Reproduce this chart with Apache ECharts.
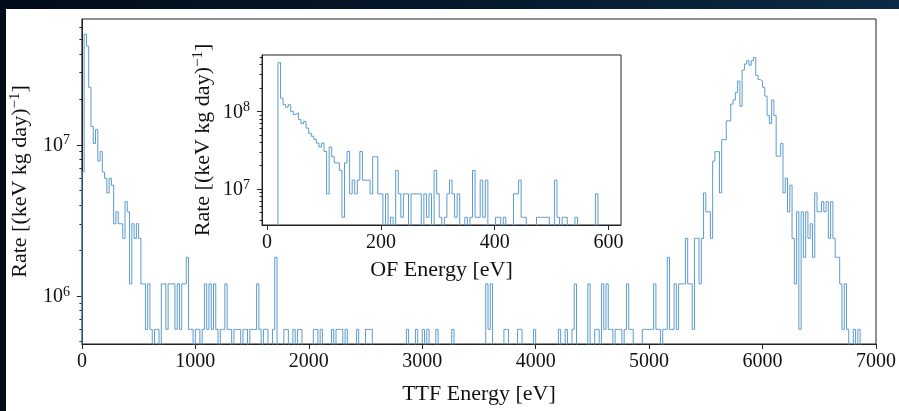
<!DOCTYPE html>
<html>
<head>
<meta charset="utf-8">
<script src="https://cdn.jsdelivr.net/npm/echarts@6/dist/echarts.min.js"></script>
<style>
  html, body { margin: 0; padding: 0; }
  body { width: 899px; height: 411px; overflow: hidden; position: relative;
         background: linear-gradient(90deg, #020c18 0%, #06182b 50%, #0b2a45 100%); }
  #panel { position: absolute; left: 6px; top: 9px; right: 0; bottom: 0; background: #fff; }
  #chart { position: absolute; left: 0; top: 0; width: 899px; height: 411px; }
</style>
</head>
<body>
<div id="panel"></div>
<div id="chart"></div>
<script>
// ---------------- data ----------------
// Main histogram: TTF energy, 20 eV bins starting at 0 eV; values are events per bin
const mainBinStart = 0;
const mainBinWidth = 20;
const mainCounts = [
  11, 90, 75, 40, 22, 17, 21, 13, 15, 11, 10, 8, 10, 9, 5, 6, 5, 5, 4, 7,
  6, 2, 5, 4, 5, 4, 2, 2, 1, 2, 1, 0, 1, 1, 0, 2, 2, 1, 2, 2,
  2, 1, 2, 1, 2, 2, 3, 1, 1, 0, 1, 1, 0, 1, 2, 1, 2, 1, 2, 1,
  0, 1, 1, 2, 1, 1, 0, 1, 1, 1, 0, 1, 1, 0, 1, 1, 1, 2, 1, 0,
  1, 1, 0, 0, 1, 3, 0, 0, 0, 1, 1, 0, 0, 1, 0, 1, 1, 0, 0, 0,
  0, 0, 1, 1, 0, 1, 0, 0, 0, 0, 1, 0, 1, 1, 1, 0, 1, 0, 0, 0,
  0, 1, 0, 0, 0, 1, 1, 1, 0, 0, 0, 0, 0, 0, 0, 0, 0, 0, 0, 0,
  0, 0, 0, 1, 0, 0, 0, 1, 0, 0, 1, 0, 1, 0, 0, 0, 1, 0, 0, 0,
  0, 0, 0, 1, 0, 0, 0, 0, 0, 0, 0, 0, 0, 0, 0, 0, 0, 0, 2, 1,
  2, 0, 0, 0, 0, 0, 1, 1, 0, 0, 0, 0, 1, 1, 0, 0, 0, 0, 0, 1,
  0, 0, 0, 0, 0, 0, 0, 0, 0, 0, 1, 0, 0, 1, 0, 0, 1, 2, 0, 0,
  0, 0, 0, 2, 0, 0, 1, 1, 0, 2, 1, 2, 1, 1, 0, 1, 1, 1, 0, 1,
  2, 1, 1, 0, 0, 0, 0, 1, 1, 1, 1, 1, 2, 1, 1, 0, 1, 1, 3, 1,
  1, 2, 1, 2, 2, 2, 4, 2, 2, 1, 4, 4, 2, 4, 8, 6, 6, 4, 13, 15,
  15, 8, 18, 18, 24, 24, 31, 33, 37, 44, 30, 52, 57, 60, 56, 60, 63, 48, 45, 44,
  40, 35, 26, 23, 33, 26, 14, 14, 17, 8, 10, 6, 9, 4, 2, 6, 1, 6, 3, 6,
  4, 5, 3, 8, 6, 6, 7, 6, 7, 4, 7, 4, 3, 3, 2, 1, 2, 1, 0, 0,
  1, 0, 1, 0, 0, 0, 0, 0, 0, 0
];
const mainRatePerEvent = 6.0e5;          // rate level of a single-event bin
const mainXTicks = [0, 1000, 2000, 3000, 4000, 5000, 6000, 7000];
const mainYTicks = [1e6, 1e7];
const mainYRange = [4.8e5, 6.8e7];

// Inset histogram: OF energy, 4.5 eV bins starting at 19 eV
const insetBinStart = 19;
const insetBinWidth = 4.5;
const insetCounts = [
  97, 34, 28, 26, 28, 23, 21, 22, 18, 16, 17, 14, 12, 11, 10, 9, 8, 9, 7, 2,
  8, 6, 5, 5, 4, 1, 5, 7, 2, 3, 2, 3, 7, 3, 3, 3, 2, 6, 6, 2,
  2, 0, 2, 0, 1, 0, 4, 2, 1, 2, 2, 0, 2, 2, 2, 2, 0, 2, 1, 2,
  0, 4, 2, 1, 0, 1, 2, 3, 2, 1, 2, 0, 0, 1, 0, 1, 4, 1, 1, 3,
  1, 3, 0, 0, 0, 1, 1, 0, 1, 0, 0, 0, 2, 2, 3, 1, 1, 0, 0, 0,
  0, 1, 1, 1, 1, 1, 0, 0, 3, 1, 0, 1, 1, 0, 0, 0, 1, 0, 0, 0,
  0, 0, 0, 0, 2
];
const insetRatePerEvent = 4.35e6;
const insetXTicks = [0, 200, 400, 600];
const insetXRange = [-9, 622];
const insetYTicks = [1e7, 1e8];
const insetYRange = [3.46e6, 5.3e8];

// ---------------- helpers ----------------
function stepOutline(start, width, counts, unit, floor) {
  const pts = [[start, floor]];
  counts.forEach((c, i) => {
    const v = c > 0 ? c * unit : floor;
    pts.push([start + i * width, v], [start + (i + 1) * width, v]);
  });
  pts.push([start + counts.length * width, floor]);
  return pts;
}
function minorLogTicks(lo, hi) {
  const out = [];
  for (let e = Math.floor(Math.log10(lo)); e <= Math.ceil(Math.log10(hi)); e++) {
    for (let m = 2; m <= 9; m++) {
      const v = m * Math.pow(10, e);
      if (v >= lo && v <= hi) out.push(v);
    }
  }
  return out;
}
function powLabel(v) {
  return '{b|10}{s|' + Math.round(Math.log10(v)) + '}';
}

const FONT = 'Liberation Serif';
const TXT = '#111';
const AX = '#222';
const LINE = '#5b9bd0';

const tickRich = {
  b: { fontFamily: FONT, color: TXT, fontSize: 20, lineHeight: 22, verticalAlign: 'bottom' },
  s: { fontFamily: FONT, color: TXT, fontSize: 14, lineHeight: 22, verticalAlign: 'top' }
};
const nameStyle = {
  fontFamily: FONT, color: TXT, fontSize: 22, lineHeight: 24,
  rich: {
    s: { fontFamily: FONT, color: TXT, fontSize: 15, lineHeight: 24, verticalAlign: 'top' }
  }
};
const yName = 'Rate [(keV kg day){s|−1}]';

const chart = echarts.init(document.getElementById('chart'), null, { renderer: 'canvas' });
chart.setOption({
  animation: false,
  backgroundColor: 'transparent',
  grid: [
    { left: 80, top: 19, width: 800, height: 330, show: true, borderColor: AX, borderWidth: 1,
      backgroundColor: 'transparent' },
    { left: 262, top: 55, width: 359, height: 170, show: true, borderColor: AX, borderWidth: 1,
      backgroundColor: '#fff', z: 10 }
  ],
  xAxis: [
    { gridIndex: 0, type: 'value', min: 0, max: 7000, interval: 1000,
      name: 'TTF Energy [eV]', nameLocation: 'middle', nameGap: 38,
      nameTextStyle: nameStyle,
      axisLine: { onZero: false, lineStyle: { color: AX, width: 1 } },
      axisTick: { inside: false, length: 5, lineStyle: { color: AX } },
      axisLabel: { fontFamily: FONT, color: TXT, fontSize: 20, margin: 8,
                   customValues: mainXTicks, formatter: v => String(v) },
      splitLine: { show: false } },
    { gridIndex: 1, type: 'value', min: insetXRange[0], max: insetXRange[1], z: 11,
      name: 'OF Energy [eV]', nameLocation: 'middle', nameGap: 33,
      nameTextStyle: nameStyle,
      axisLine: { onZero: false, lineStyle: { color: AX, width: 1 } },
      axisTick: { inside: false, length: 5, lineStyle: { color: AX }, customValues: insetXTicks },
      axisLabel: { fontFamily: FONT, color: TXT, fontSize: 20, margin: 8,
                   customValues: insetXTicks, formatter: v => String(v) },
      splitLine: { show: false } }
  ],
  yAxis: [
    { gridIndex: 0, type: 'log', logBase: 10, min: mainYRange[0], max: mainYRange[1], position: 'left',
      name: yName, nameLocation: 'middle', nameGap: 49,
      nameTextStyle: nameStyle,
      axisLine: { show: true, onZero: false, lineStyle: { color: AX, width: 1 } },
      axisTick: { inside: false, length: 5, lineStyle: { color: AX }, customValues: mainYTicks },
      axisLabel: { margin: 12, customValues: mainYTicks, formatter: powLabel, rich: tickRich },
      splitLine: { show: false } },
    { gridIndex: 0, type: 'log', logBase: 10, min: mainYRange[0], max: mainYRange[1], position: 'left',
      axisLine: { show: false, onZero: false },
      axisTick: { inside: false, length: 2.5, lineStyle: { color: AX },
                  customValues: minorLogTicks(mainYRange[0], mainYRange[1]) },
      axisLabel: { show: false }, splitLine: { show: false } },
    { gridIndex: 1, type: 'log', logBase: 10, min: insetYRange[0], max: insetYRange[1], z: 11, position: 'left',
      name: yName, nameLocation: 'middle', nameGap: 47,
      nameTextStyle: nameStyle,
      axisLine: { show: true, onZero: false, lineStyle: { color: AX, width: 1 } },
      axisTick: { inside: false, length: 5, lineStyle: { color: AX }, customValues: insetYTicks },
      axisLabel: { margin: 12, customValues: insetYTicks, formatter: powLabel, rich: tickRich },
      splitLine: { show: false } },
    { gridIndex: 1, type: 'log', logBase: 10, min: insetYRange[0], max: insetYRange[1], z: 11, position: 'left',
      axisLine: { show: false, onZero: false },
      axisTick: { inside: false, length: 2.5, lineStyle: { color: AX },
                  customValues: minorLogTicks(insetYRange[0], insetYRange[1]) },
      axisLabel: { show: false }, splitLine: { show: false } }
  ],
  series: [
    { type: 'line', xAxisIndex: 0, yAxisIndex: 0, z: 2, clip: true,
      showSymbol: false, symbol: 'none',
      lineStyle: { color: LINE, width: 1 },
      data: stepOutline(mainBinStart, mainBinWidth, mainCounts, mainRatePerEvent, 1e5) },
    { type: 'line', xAxisIndex: 1, yAxisIndex: 2, z: 12, clip: true,
      showSymbol: false, symbol: 'none',
      lineStyle: { color: LINE, width: 1 },
      data: stepOutline(insetBinStart, insetBinWidth, insetCounts, insetRatePerEvent, 1e6) }
  ]
});
</script>
</body>
</html>
